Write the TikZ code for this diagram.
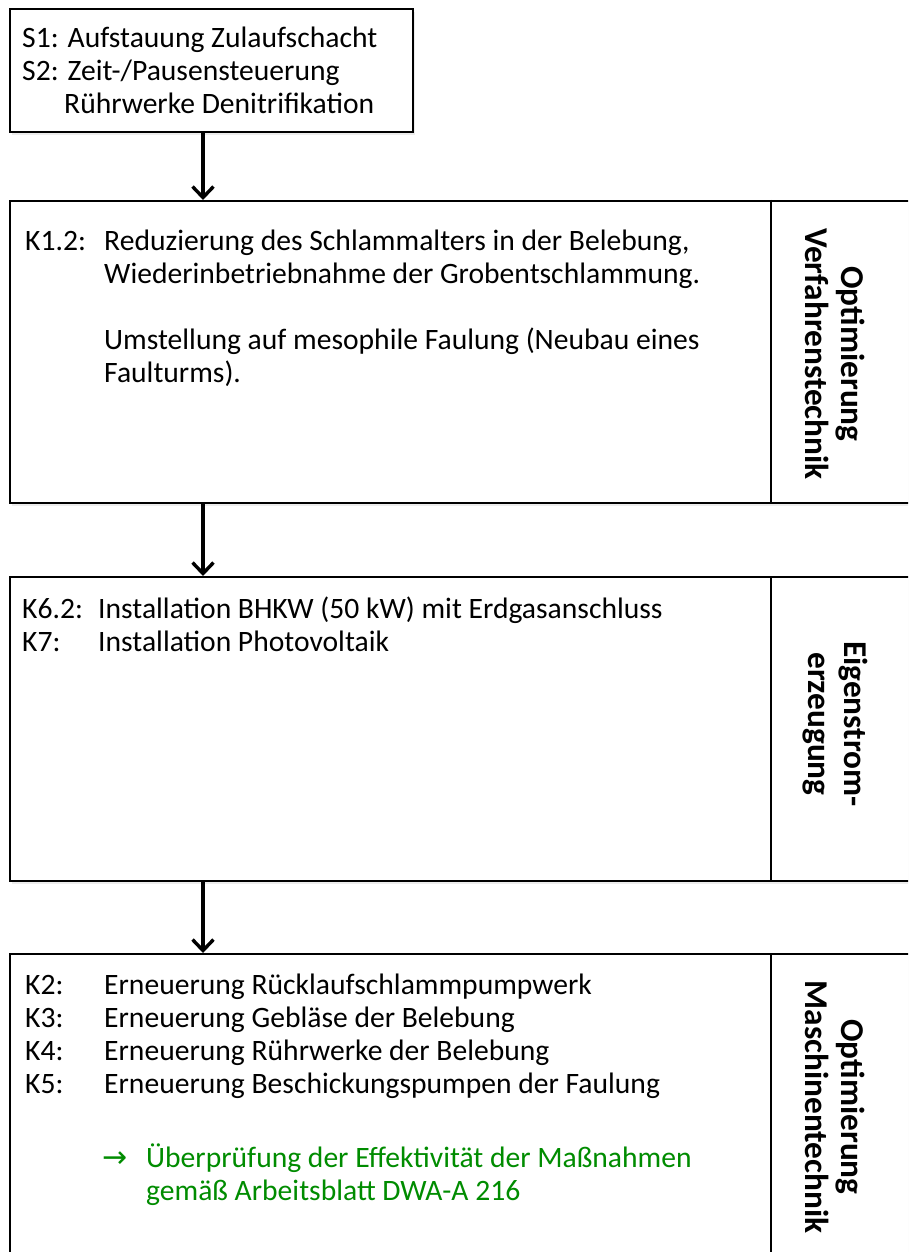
\documentclass[tikz,border=0pt]{standalone}
\usepackage{fontspec}
\setmainfont{Carlito}
\newfontfamily\arrowfont{DejaVu Sans}
\usetikzlibrary{arrows.meta,shadows}
\definecolor{checkgreen}{RGB}{0,140,0}
\newcommand{\keycol}[2]{\makebox[#1][l]{#2}}

\begin{document}
\begin{tikzpicture}[x=1pt,y=1pt,
  >={Straight Barb[length=11pt,width=21pt]},
  font=\fontsize{29.6}{33}\selectfont]
\tikzset{BoxStyle/.style = {draw,fill=white,line width=2.4pt,
                            anchor=north west,inner sep=0pt,
                            drop shadow={shadow xshift=2pt,shadow yshift=-3pt,
                                         opacity=0.15}},
         TextStyle/.style = {anchor=base west,align=left,inner sep=0pt},
         SideStyle/.style = {rotate=-90,align=center,inner sep=0pt,
                             font=\fontsize{33.3}{36}\selectfont\bfseries},
         FlowArrow/.style = {->,line width=3.4pt}}
\clip (0,0) rectangle (908,-1252);
\fill[white] (0,0) rectangle (908,-1252);
% boxes
\node[BoxStyle,minimum width=403,minimum height=123] (sbox) at (9,-8) {};
\node[BoxStyle,minimum width=920,minimum height=302] (vbox) at (9,-200) {};
\node[BoxStyle,minimum width=920,minimum height=304] (ebox) at (9,-576) {};
\node[BoxStyle,minimum width=920,minimum height=320] (mbox) at (9,-953) {};
\coordinate (ax) at (203,0);
\coordinate (dx) at (771,0);
\draw[line width=2.4pt] (vbox.north -| dx) -- (vbox.south -| dx);
\draw[line width=2.4pt] (ebox.north -| dx) -- (ebox.south -| dx);
\draw[line width=2.4pt] (mbox.north -| dx) -- (mbox.south -| dx);
% arrows
\draw[FlowArrow] (sbox.south -| ax) -- (vbox.north -| ax);
\draw[FlowArrow] (vbox.south -| ax) -- (ebox.north -| ax);
\draw[FlowArrow] (ebox.south -| ax) -- (mbox.north -| ax);
% texts (anchored at the baseline of their last line)
\node[TextStyle] (stext) at (22,-114) {S1: Aufstauung Zulaufschacht\\
  S2: Zeit-/Pausensteuerung\\
  \hspace*{42pt}Rührwerke Denitrifikation};
\node[TextStyle] (vtext) at (25,-382) {\keycol{79pt}{K1.2:}Reduzierung des Schlammalters in der Belebung,\\
  \hspace*{79pt}Wiederinbetriebnahme der Grobentschlammung.\\[33pt]
  \hspace*{79pt}Umstellung auf mesophile Faulung (Neubau eines\\
  \hspace*{79pt}Faulturms).};
\node[TextStyle] (etext) at (22,-651) {\keycol{76pt}{K6.2:}Installation BHKW (50 kW) mit Erdgasanschluss\\
  \keycol{76pt}{K7:}Installation Photovoltaik};
\node[TextStyle] (mtext) at (25,-1093) {\keycol{79pt}{K2:}Erneuerung Rücklaufschlammpumpwerk\\
  \keycol{79pt}{K3:}Erneuerung Gebläse der Belebung\\
  \keycol{79pt}{K4:}Erneuerung Rührwerke der Belebung\\
  \keycol{79pt}{K5:}Erneuerung Beschickungspumpen der Faulung};
\node[TextStyle,text=checkgreen] (ctext) at (102,-1200) {\keycol{44pt}{\arrowfont\fontsize{30}{33}\selectfont →}Überprüfung der Effektivität der Maßnahmen\\
  \hspace*{44pt}gemäß Arbeitsblatt DWA-A 216};
% side labels
\node[SideStyle] (vlabel) at (835,-354) {Optimierung\\Verfahrenstechnik};
\node[SideStyle] (elabel) at (835,-724) {Eigenstrom-\\erzeugung};
\node[SideStyle] (mlabel) at (835,-1107) {Optimierung\\Maschinentechnik};
\end{tikzpicture}
\end{document}
